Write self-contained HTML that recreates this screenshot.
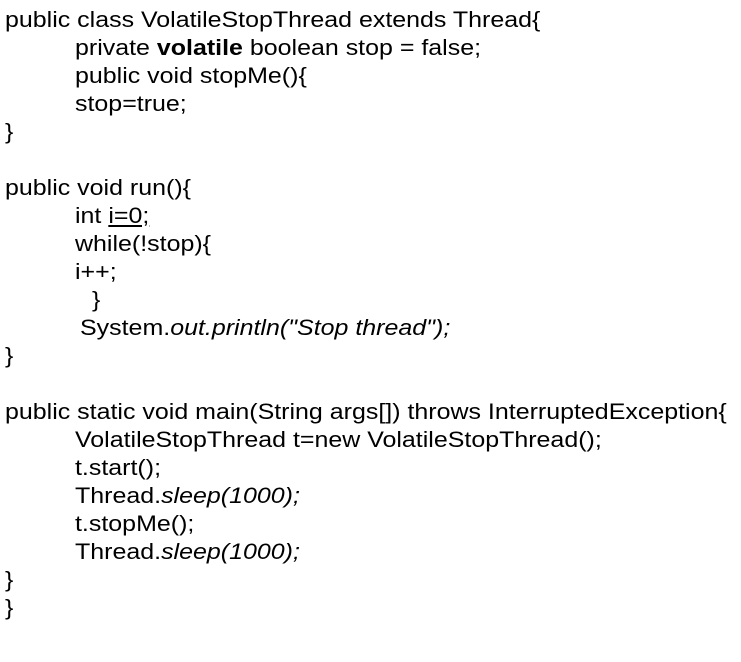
<!DOCTYPE html>
<html><head><meta charset="utf-8"><style>
html,body{margin:0;padding:0;background:#fff;width:741px;height:662px;overflow:hidden}
.l{position:absolute;white-space:pre;font-family:"Liberation Sans","Noto Sans CJK SC",sans-serif;font-size:22px;line-height:28px;color:#000;transform:scaleX(1.135);transform-origin:0 0}
</style></head><body>
<div class="l" style="left:5px;top:6px">public class VolatileStopThread extends Thread{</div>
<div class="l" style="left:75px;top:34px">private <b>volatile</b> boolean stop = false;</div>
<div class="l" style="left:75px;top:62px">public void stopMe(){</div>
<div class="l" style="left:75px;top:90px">stop=true;</div>
<div class="l" style="left:5px;top:118px">}</div>
<div class="l" style="left:5px;top:174px">public void run(){</div>
<div class="l" style="left:75px;top:202px">int <u>i=0;</u></div>
<div class="l" style="left:75px;top:230px">while(!stop){</div>
<div class="l" style="left:75px;top:258px">i++;</div>
<div class="l" style="left:92px;top:286px">}</div>
<div class="l" style="left:80px;top:314px">System.<i>out.println("Stop thread");</i></div>
<div class="l" style="left:5px;top:342px">}</div>
<div class="l" style="left:5px;top:398px">public static void main(String args[]) throws InterruptedException{</div>
<div class="l" style="left:75px;top:426px">VolatileStopThread t=new VolatileStopThread();</div>
<div class="l" style="left:75px;top:454px">t.start();</div>
<div class="l" style="left:75px;top:482px">Thread.<i>sleep(1000);</i></div>
<div class="l" style="left:75px;top:510px">t.stopMe();</div>
<div class="l" style="left:75px;top:538px">Thread.<i>sleep(1000);</i></div>
<div class="l" style="left:5px;top:566px">}</div>
<div class="l" style="left:5px;top:594px">}</div>
</body></html>
